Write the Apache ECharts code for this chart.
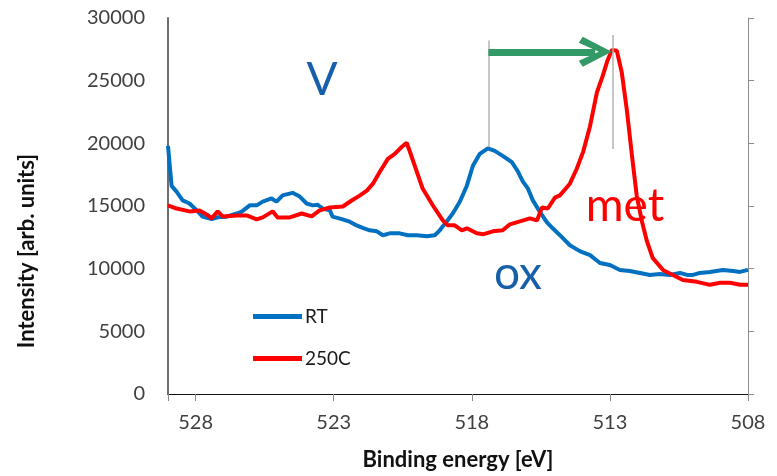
<!DOCTYPE html>
<html>
<head>
<meta charset="utf-8">
<title>XPS V 2p</title>
<script src="https://cdn.jsdelivr.net/npm/echarts@6/dist/echarts.min.js"></script>
<style>
    html, body { margin: 0; padding: 0; background: #fff; }
    #chart { width: 777px; height: 476px; }
</style>
</head>
<body>
<div id="chart"></div>
<script>
// ---------- 数据 ----------
const xTicks = [508, 513, 518, 523, 528];
const yTicks = [0, 5000, 10000, 15000, 20000, 25000, 30000];
const seriesNames = ['RT', '250C'];

// RT
const rtEnergy = [529.0, 528.87, 528.69, 528.47, 528.22, 527.96, 527.75, 527.42, 527.2, 526.88, 526.51, 526.33, 526.04, 525.79,
    525.57, 525.25, 525.07, 524.85, 524.49, 524.23, 523.98, 523.76, 523.58, 523.4, 523.14, 523.04, 522.71, 522.42, 522.17,
    521.95, 521.7, 521.44, 521.22, 520.97, 520.61, 520.32, 519.99, 519.63, 519.34, 519.16, 518.91, 518.69, 518.43, 518.18,
    517.96, 517.71, 517.42, 517.17, 516.88, 516.55, 516.33, 516.15, 515.97, 515.79, 515.54, 515.28, 515.07, 514.81, 514.45,
    514.09, 513.72, 513.36, 513.0, 512.64, 512.28, 511.91, 511.55, 511.19, 510.83, 510.46, 510.21, 509.99, 509.74, 509.38,
    508.91, 508.54, 508.29, 508.0];
const rtIntensity = [19800, 16600, 16150, 15450, 15200, 14650, 14150, 13950, 14100, 14150, 14400, 14550, 15050, 15050,
    15350, 15600, 15350, 15850, 16050, 15750, 15200, 15050, 15100, 14800, 14650, 14150, 13950, 13750, 13450,
    13250, 13060, 12980, 12670, 12820, 12820, 12670, 12670, 12590, 12670, 13060, 13770, 14400, 15360, 16620,
    18210, 19160, 19600, 19400, 19000, 18500, 17750, 16950, 16400, 15450, 14550, 13700, 13220, 12670, 11870,
    11400, 11080, 10450, 10290, 9900, 9820, 9660, 9500, 9580, 9500, 9660, 9500, 9500, 9660, 9740,
    9900, 9820, 9740, 9900];

// 250C
const hotEnergy = [529.0, 528.69, 528.22, 527.86, 527.6, 527.42, 527.2, 527.02, 526.51, 526.15, 525.79, 525.57, 525.21,
    525.03, 524.59, 524.16, 523.8, 523.51, 523.14, 522.67, 522.35, 522.06, 521.8, 521.58, 521.33, 521.04, 520.79, 520.54,
    520.36, 520.25, 519.99, 519.78, 519.41, 519.05, 518.87, 518.62, 518.36, 518.18, 517.82, 517.6, 517.24, 516.88, 516.62,
    516.26, 515.9, 515.64, 515.46, 515.25, 514.99, 514.81, 514.45, 514.2, 513.97, 513.72, 513.47, 513.28, 513.1, 512.93,
    512.75, 512.57, 512.39, 512.2, 512.03, 511.84, 511.66, 511.45, 511.08, 510.72, 510.36, 509.85, 509.38, 509.01, 508.65,
    508.29, 508.0];
const hotIntensity = [15050, 14800, 14570, 14640, 14330, 14010, 14570, 14170, 14250, 14250, 13930, 14090, 14570,
    14090, 14090, 14400, 14170, 14650, 14880, 14960, 15440, 15830, 16230, 16780, 17730, 18760, 19160, 19710,
    20050, 19390, 17730, 16390, 15040, 13850, 13460, 13460, 13060, 13220, 12820, 12740, 12980, 13060, 13540,
    13770, 14010, 13850, 14880, 14800, 15670, 15850, 16780, 17970, 19320, 21370, 24060, 25250, 26520, 27450,
    27390, 25650, 22720, 19000, 15830, 13770, 12190, 10850, 9900, 9500, 9100, 8950, 8710, 8870, 8870,
    8710, 8710];

// 峰位标记（灰线）和箭头
const peakLines = [[517.4, 19700, 28200], [512.9, 19550, 28650]];
const arrowFrom = [517.4, 27300];
const arrowTo = [513.53, 27300];

const FONT = 'Lato, "Open Sans", "DejaVu Sans", sans-serif';
const AXIS_GRAY = '#8c8c8c';

function pairs(xs, ys) {
    return xs.map((x, i) => [x, ys[i]]);
}

const chart = echarts.init(document.getElementById('chart'));

const option = {
    backgroundColor: '#fff',
    animation: false,
    grid: { left: 168, right: 29, top: 18, bottom: 79 },
    legend: {
        orient: 'vertical', left: 248, top: 302,
        itemWidth: 49, itemHeight: 5, itemGap: 23,
        icon: 'rect',
        data: seriesNames,
        textStyle: { fontFamily: FONT, fontSize: 19, color: '#1a1a1a', padding: [0, 0, 0, -2] }
    },
    xAxis: [{
        type: 'value', inverse: true, min: 508, max: 529, interval: 5,
        position: 'bottom',
        axisLine: { show: true, lineStyle: { color: AXIS_GRAY, width: 1 } },
        axisTick: { show: true, inside: false, length: 7, lineStyle: { color: AXIS_GRAY } },
        axisLabel: {
            margin: 19, fontFamily: FONT, fontSize: 20, color: '#404040',
            formatter: v => xTicks.includes(v) ? String(v) : ''
        },
        splitLine: { show: false },
        name: 'Binding energy [eV]', nameLocation: 'middle', nameGap: 55,
        nameTextStyle: { fontFamily: FONT, fontSize: 22, fontWeight: 'bold', color: '#111' }
    }, {
        // 顶部边框
        type: 'value', inverse: true, min: 508, max: 529, position: 'top',
        axisLine: { show: true, lineStyle: { color: '#111', width: 1 } },
        axisTick: { show: false }, axisLabel: { show: false }, splitLine: { show: false }
    }],
    yAxis: [{
        type: 'value', min: 0, max: 30000, interval: 5000, position: 'left',
        axisLine: { show: true, lineStyle: { color: '#6e6e6e', width: 2 } },
        axisTick: { show: false },
        axisLabel: {
            margin: 23, fontFamily: FONT, fontSize: 20, color: '#404040',
            formatter: v => yTicks.includes(v) ? String(v) : ''
        },
        splitLine: { show: false }
    }, {
        // 右侧刻度线
        type: 'value', min: 0, max: 30000, interval: 5000, position: 'right',
        axisLine: { show: true, lineStyle: { color: AXIS_GRAY, width: 1 } },
        axisTick: { show: true, inside: false, length: 6, lineStyle: { color: AXIS_GRAY } },
        axisLabel: { show: false },
        splitLine: { show: false }
    }],
    series: [{
        name: 'RT', type: 'line', xAxisIndex: 0, yAxisIndex: 0,
        data: pairs(rtEnergy, rtIntensity),
        showSymbol: false, symbol: 'none',
        lineStyle: { color: '#0070C0', width: 4 },
        itemStyle: { color: '#0070C0' },
        markLine: {
            silent: true, symbol: 'none', label: { show: false },
            lineStyle: { color: '#b3b3b3', width: 1.5, type: 'solid' },
            data: peakLines.map(p => [{ coord: [p[0], p[1]] }, { coord: [p[0], p[2]] }])
        }
    }, {
        name: '250C', type: 'line', xAxisIndex: 0, yAxisIndex: 0,
        data: pairs(hotEnergy, hotIntensity),
        showSymbol: false, symbol: 'none',
        lineStyle: { color: '#FF0000', width: 4 },
        itemStyle: { color: '#FF0000' },
        markLine: {
            silent: true, label: { show: false },
            symbol: ['none', 'path://M15,0 L30,29 L24,33 L15,13 L6,33 L0,29 Z'],
            symbolSize: [30, 33],
            lineStyle: { color: '#339966', width: 7, type: 'solid' },
            itemStyle: { color: '#339966' },
            data: [[{ coord: arrowFrom }, { coord: arrowTo }]]
        }
    }],
    graphic: [
        {
            type: 'text', x: 27, y: 251, rotation: Math.PI / 2,
            style: {
                text: 'Intensity [arb. units]', fontFamily: FONT, fontSize: 22, fontWeight: 'bold',
                fill: '#111', textAlign: 'center', textVerticalAlign: 'middle'
            }
        },
        {
            type: 'text', x: 322, y: 80,
            style: { text: 'V', fontFamily: FONT, fontSize: 46, fill: '#1660AA', textAlign: 'center', textVerticalAlign: 'middle' }
        },
        {
            type: 'text', x: 518, y: 274,
            style: { text: 'ox', fontFamily: FONT, fontSize: 46, fill: '#1660AA', textAlign: 'center', textVerticalAlign: 'middle' }
        },
        {
            type: 'text', x: 625, y: 206,
            style: { text: 'met', fontFamily: FONT, fontSize: 46, fill: '#FF0000', textAlign: 'center', textVerticalAlign: 'middle' }
        }
    ]
};

chart.setOption(option);
</script>
</body>
</html>
